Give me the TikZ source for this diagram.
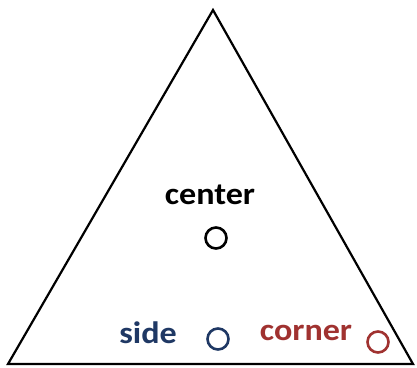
\documentclass[tikz,border=0pt]{standalone}
\usepackage{fontspec}
\setmainfont[FakeStretch=1.1]{Carlito}
\usetikzlibrary{positioning}
\definecolor{sideblue}{RGB}{31,56,100}
\definecolor{cornerred}{RGB}{160,50,48}

\begin{document}
\begin{tikzpicture}[x=1pt,y=-1pt,
    label/.style={font=\bfseries\fontsize{31}{33}\selectfont,inner sep=0pt},
    ring/.style={draw,circle,line width=2.6pt,minimum size=21pt,inner sep=0pt}]
  \useasboundingbox (0,0) rectangle (417,367);
  % Triangle
  \coordinate (apex) at (213,10);
  \coordinate (left) at (8,364);
  \coordinate (right) at (413,364);
  \draw[line width=2.2pt] (apex) -- (left) -- (right) -- cycle;
  % Center
  \node[label] (centertxt) at (210,195) {center};
  \node[ring] (centerring) at (216,238) {};
  % Side
  \node[label,sideblue] (sidetxt) at (148,333) {side};
  \node[ring,sideblue] (sidering) at (218,339) {};
  % Corner
  \node[label,cornerred] (cornertxt) at (306,333) {corner};
  \node[ring,cornerred] (cornerring) at (378,342) {};
\end{tikzpicture}
\end{document}
